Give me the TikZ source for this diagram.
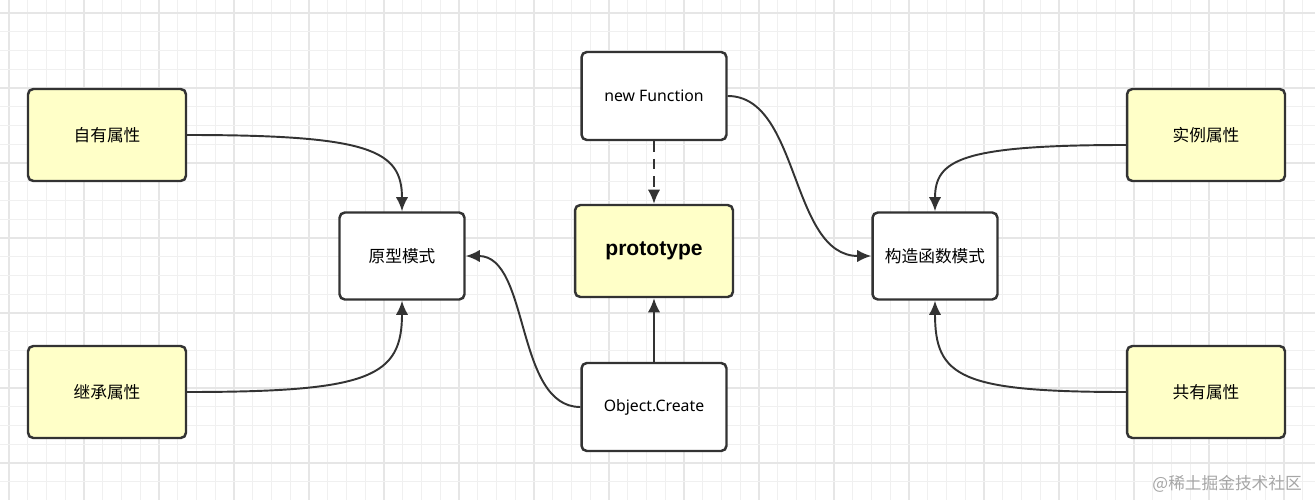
\documentclass[tikz,border=0pt]{standalone}
\usepackage{fontspec}
\setmainfont{Noto Sans}
\newfontfamily\cjk{Noto Sans CJK SC}
\newfontfamily\protofont{Liberation Sans}
\usetikzlibrary{arrows.meta}
\definecolor{boxyellow}{RGB}{255,255,200}
\definecolor{boxline}{RGB}{51,51,51}
\definecolor{gridminor}{RGB}{240,240,240}
\definecolor{gridmajor}{RGB}{230,230,230}
\tikzset{
  plainbox/.style={draw=boxline, line width=1.4pt, rounded corners=3pt, fill=white,
    minimum width=2.9cm, minimum height=1.76cm, font=\cjk\fontsize{9.5}{11}\selectfont},
  notebox/.style={plainbox, fill=boxyellow, minimum width=3.16cm, minimum height=1.84cm},
  link/.style={draw=boxline, line width=1.1pt, -{Latex[length=8pt,width=7pt]}}
}

\begin{document}
\begin{tikzpicture}[x=0.02cm,y=-0.02cm]
    \useasboundingbox (0,0) rectangle (1315,500);
    \fill[white] (0,0) rectangle (1315,500);
    % grid
    \foreach \i in {0,...,69} {
        \pgfmathsetmacro{\gx}{9+18.75*\i}
        \pgfmathtruncatemacro{\major}{mod(\i,4)==0}
        \ifnum\major=1
            \draw[gridmajor, line width=0.6pt] (\gx,0) -- (\gx,500);
        \else
            \draw[gridminor, line width=0.5pt] (\gx,0) -- (\gx,500);
        \fi
    }
    \foreach \i in {0,...,26} {
        \pgfmathsetmacro{\gy}{13+18.75*\i}
        \pgfmathtruncatemacro{\major}{mod(\i,4)==0}
        \ifnum\major=1
            \draw[gridmajor, line width=0.6pt] (0,\gy) -- (1315,\gy);
        \else
            \draw[gridminor, line width=0.5pt] (0,\gy) -- (1315,\gy);
        \fi
    }

    \node[notebox] (own) at (107,135) {自有属性};
    \node[notebox] (inherit) at (107,392) {继承属性};
    \node[plainbox, minimum width=2.5cm, minimum height=1.74cm] (protomode) at (402,256) {原型模式};
    \node[plainbox, font=\fontsize{9}{11}\selectfont] (newfn) at (654,96) {new Function};
    \node[notebox, font=\protofont\bfseries\fontsize{12}{14}\selectfont] (proto) at (654,251) {prototype};
    \node[plainbox, font=\fontsize{9}{11}\selectfont] (objcreate) at (654,407) {Object.Create};
    \node[plainbox, minimum width=2.5cm, minimum height=1.74cm] (ctormode) at (935,256) {构造函数模式};
    \node[notebox] (instance) at (1206,135) {实例属性};
    \node[notebox] (shared) at (1206,392) {共有属性};

    \path[link] (own.east) .. controls (370,135) and (402,150) .. (protomode.north);
    \path[link] (inherit.east) .. controls (370,392) and (402,377) .. (protomode.south);
    \path[link] (objcreate.west) .. controls (515,407) and (530,256) .. (protomode.east);
    \path[link, dashed, dash pattern=on 6pt off 4pt] (newfn.south) -- (proto.north);
    \path[link] (objcreate.north) -- (proto.south);
    \path[link] (newfn.east) .. controls (800,96) and (790,256) .. (ctormode.west);
    \path[link] (instance.west |- 0,145) coordinate (instout) .. controls (960,145) and (935,160) .. (ctormode.north);
    \path[link] (shared.west) .. controls (960,392) and (935,377) .. (ctormode.south);

    \node[text=gray!70, font=\cjk\fontsize{9.5}{11}\selectfont, anchor=east] (mark) at (1308,484) {@稀土掘金技术社区};
\end{tikzpicture}
\end{document}
